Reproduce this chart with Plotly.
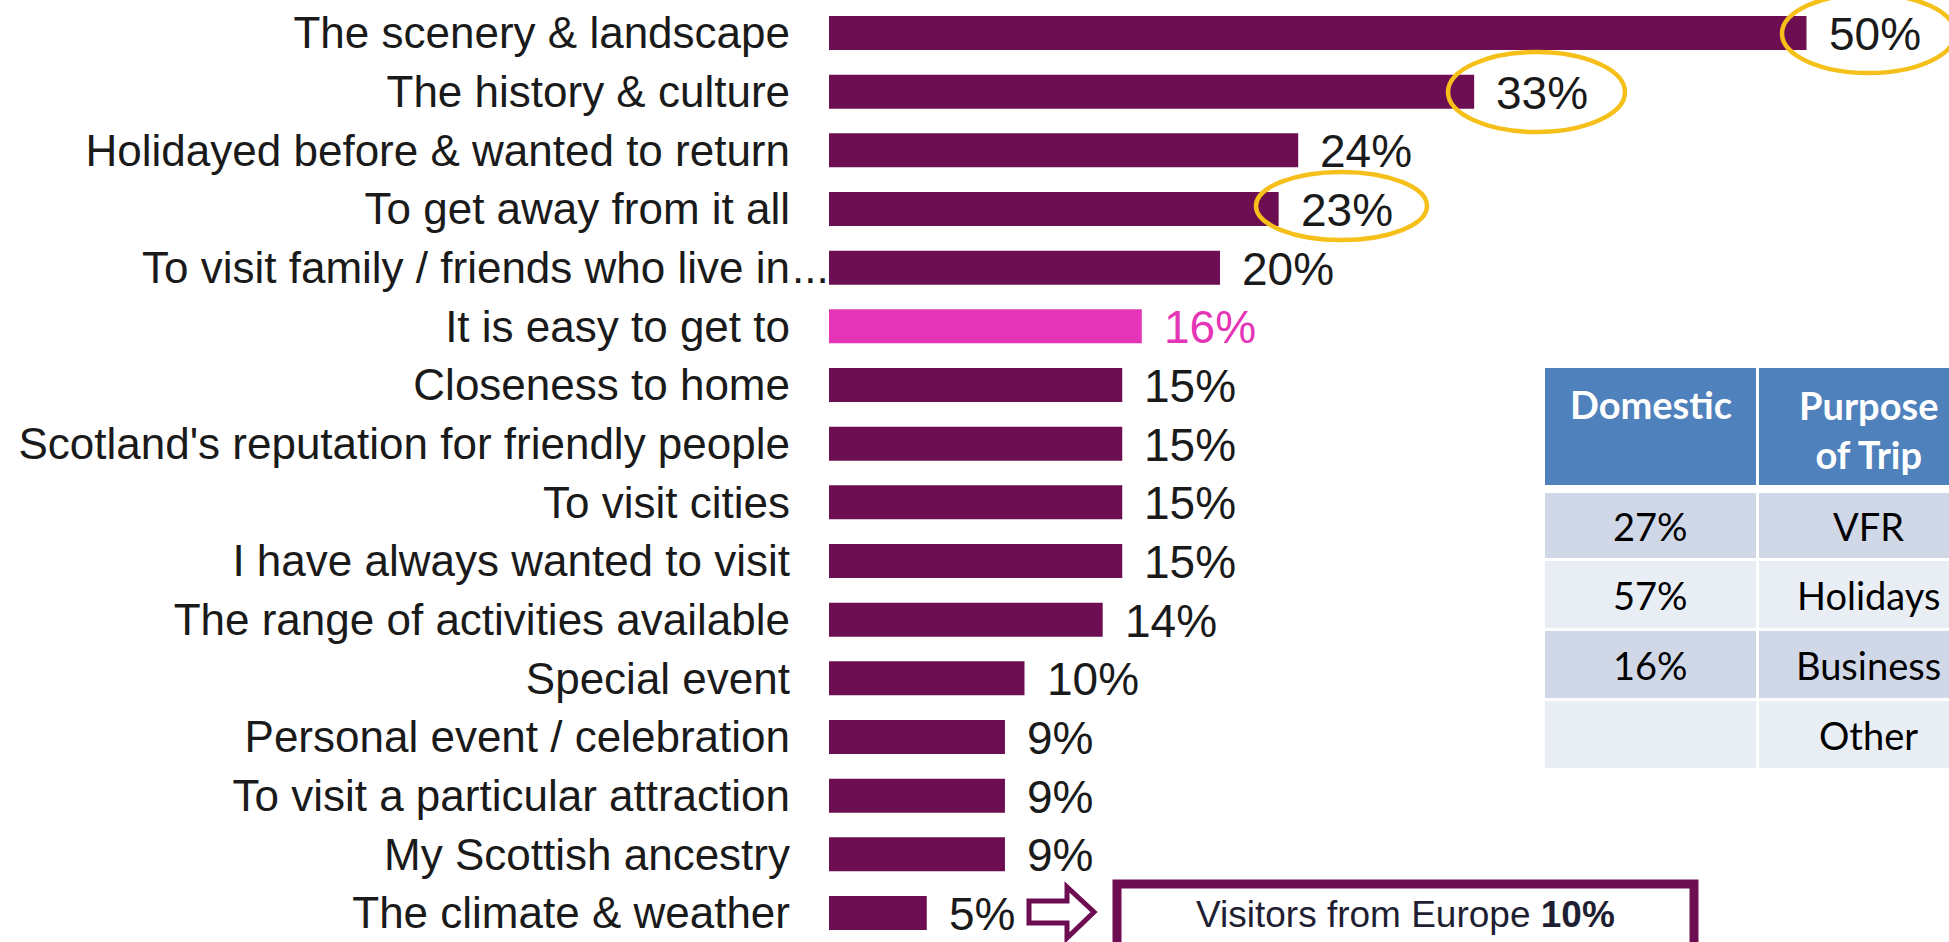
import plotly.graph_objects as go

# ---------------- data ----------------
categories = [
    "The scenery & landscape",
    "The history & culture",
    "Holidayed before & wanted to return",
    "To get away from it all",
    "To visit family / friends who live in...",
    "It is easy to get to",
    "Closeness to home",
    "Scotland's reputation for friendly people",
    "To visit cities",
    "I have always wanted to visit",
    "The range of activities available",
    "Special event",
    "Personal event / celebration",
    "To visit a particular attraction",
    "My Scottish ancestry",
    "The climate & weather",
]
values = [50, 33, 24, 23, 20, 16, 15, 15, 15, 15, 14, 10, 9, 9, 9, 5]
highlight = ["It is easy to get to"]
circled = ["The scenery & landscape", "The history & culture", "To get away from it all"]

table_header = ["Domestic", "Purpose<br>of Trip"]
table_domestic = ["27%", "57%", "16%", ""]
table_purpose = ["VFR", "Holidays", "Business", "Other"]

europe_note = "Visitors from Europe <b>10%</b>"

# ---------------- styling ----------------
W, H = 1949, 942
L = 829
PURPLE = "#6D0E52"
PINK = "#E535B6"
YELLOW = "#F6C01A"
FONT = "Liberation Sans, Arial, sans-serif"
TFONT = "Lato, Calibri, sans-serif"


def X(px):
    return (px - L) / (W - L)


def Y(py):
    return 1 - py / H


bar_colors = [PINK if c in highlight else PURPLE for c in categories]
tick_text = [c[:-3] if c.endswith("...") else c for c in categories]

fig = go.Figure()
fig.add_trace(go.Bar(
    x=values, y=categories, orientation="h",
    marker=dict(color=bar_colors, line=dict(width=0)),
    width=0.58, hoverinfo="skip",
))

annotations = []
# value labels
for c, v, col in zip(categories, values, bar_colors):
    annotations.append(dict(
        x=v, y=c, xref="x", yref="y", text=f"{v}%", showarrow=False,
        xanchor="left", yanchor="middle", xshift=20, yshift=-1,
        font=dict(family=FONT, size=46, color=(PINK if col == PINK else "#1a1a1a")),
    ))
# ellipsis of the truncated label
for c in categories:
    if c.endswith("..."):
        annotations.append(dict(
            x=0, y=c, xref="x", yref="y", text="...", showarrow=False,
            xanchor="right", yanchor="middle", xshift=2,
            font=dict(family=FONT, size=44, color="#1a1a1a"),
        ))

shapes = []
# yellow ellipses (around circled labels)
ellipse_boxes = {
    "The scenery & landscape": (1782, -6, 1955, 73),
    "The history & culture": (1448, 52, 1625, 132),
    "To get away from it all": (1256, 172, 1427, 240),
}
for c in circled:
    x0, y0, x1, y1 = ellipse_boxes[c]
    shapes.append(dict(type="circle", xref="paper", yref="paper",
                       x0=X(x0), x1=X(x1), y0=Y(y1), y1=Y(y0),
                       line=dict(color=YELLOW, width=4.5), layer="above"))

# table
col_x = [(1545, 1756), (1759, 1977)]
header_y = (368, 485)
row_y = [(493, 558), (561, 628), (631, 698), (701, 768)]
row_fill = ["#D0D8E8", "#E9EDF4", "#D0D8E8", "#E9EDF4"]
for (cx0, cx1) in col_x:
    shapes.append(dict(type="rect", xref="paper", yref="paper",
                       x0=X(cx0), x1=X(cx1), y0=Y(header_y[1]), y1=Y(header_y[0]),
                       fillcolor="#4F81BD", line=dict(width=0), layer="above"))
    for (ry0, ry1), f in zip(row_y, row_fill):
        shapes.append(dict(type="rect", xref="paper", yref="paper",
                           x0=X(cx0), x1=X(cx1), y0=Y(ry1), y1=Y(ry0),
                           fillcolor=f, line=dict(width=0), layer="above"))

header_centers_y = [404, 429]
for (cx0, cx1), t, hy in zip(col_x, table_header, header_centers_y):
    annotations.append(dict(
        x=X((cx0 + cx1) / 2), y=Y(hy), xref="paper", yref="paper", text=f"<b>{t}</b>",
        showarrow=False, xanchor="center", yanchor="middle",
        font=dict(family=TFONT, size=38, color="white"),
    ))
for col, (cx0, cx1) in zip([table_domestic, table_purpose], col_x):
    for t, (ry0, ry1) in zip(col, row_y):
        if not t:
            continue
        annotations.append(dict(
            x=X((cx0 + cx1) / 2), y=Y((ry0 + ry1) / 2), xref="paper", yref="paper",
            text=t, showarrow=False, xanchor="center", yanchor="middle",
            font=dict(family=TFONT, size=38, color="black"),
        ))

# arrow
pts = [(1029, 901), (1067, 901), (1067, 887), (1094, 912), (1067, 938), (1067, 923), (1029, 923)]
path = "M " + " L ".join(f"{X(px):.5f},{Y(py):.5f}" for px, py in pts) + " Z"
shapes.append(dict(type="path", xref="paper", yref="paper", path=path,
                   fillcolor="white", line=dict(color=PURPLE, width=5), layer="above"))

# Europe box
shapes.append(dict(type="rect", xref="paper", yref="paper",
                   x0=X(1117), x1=X(1694), y0=Y(990), y1=Y(884),
                   fillcolor="white", line=dict(color=PURPLE, width=9), layer="above"))
annotations.append(dict(
    x=X(1405), y=Y(914), xref="paper", yref="paper", text=europe_note,
    showarrow=False, xanchor="center", yanchor="middle",
    font=dict(family=FONT, size=37, color="#1f1f33"),
))

fig.update_layout(
    width=W, height=H,
    margin=dict(l=L, r=0, t=0, b=0),
    paper_bgcolor="white", plot_bgcolor="white",
    showlegend=False,
    xaxis=dict(range=[0, (W - L) / 19.55], visible=False, fixedrange=True),
    yaxis=dict(
        type="category", categoryorder="array", categoryarray=categories,
        tickvals=categories, ticktext=tick_text,
        range=[15.494, -0.5625], showgrid=False, zeroline=False, showline=False,
        ticks="", ticklabelstandoff=38,
        tickfont=dict(family=FONT, size=44, color="#1a1a1a"),
        automargin=False, fixedrange=True,
    ),
    shapes=shapes,
    annotations=annotations,
)

fig.write_html("out.html")
